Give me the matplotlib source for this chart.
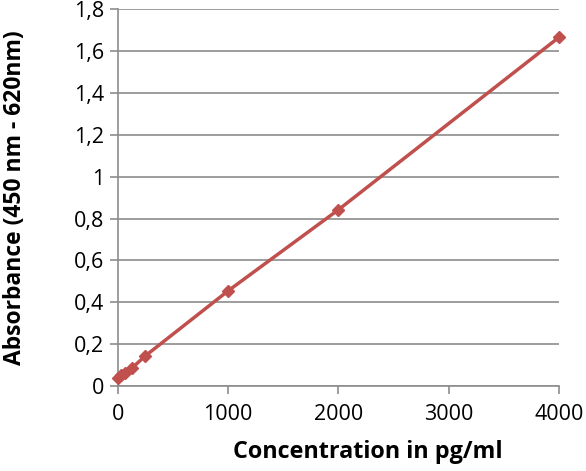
import matplotlib
matplotlib.use("Agg")
import matplotlib.pyplot as plt
from matplotlib.ticker import FuncFormatter

plt.rcParams["font.family"] = ["Open Sans", "DejaVu Sans"]

# Standard curve data
conc = [0, 31.25, 62.5, 125, 250, 1000, 2000, 4000]
absorb = [0.040, 0.052, 0.065, 0.085, 0.145, 0.455, 0.842, 1.665]

x_ticks = [0, 1000, 2000, 3000, 4000]
y_ticks = [0, 0.2, 0.4, 0.6, 0.8, 1.0, 1.2, 1.4, 1.6, 1.8]

RED = "#c0504d"
GRID = "#8c8c8c"

fig = plt.figure(figsize=(5.86, 4.71), dpi=100)
ax = fig.add_axes([0.201, 0.180, 0.753, 0.801])

ax.plot(conc, absorb, color=RED, lw=2.5, marker="D", markersize=6.5,
        markeredgecolor=RED, zorder=3, clip_on=False)

ax.set_xlim(0, 4000)
ax.set_ylim(0, 1.8)
ax.set_xticks(x_ticks)
ax.set_yticks(y_ticks)

def comma(v, pos):
    s = f"{v:.1f}".rstrip("0").rstrip(".")
    return s.replace(".", ",")

ax.yaxis.set_major_formatter(FuncFormatter(comma))
ax.yaxis.grid(True, color=GRID, lw=1.2)
ax.set_axisbelow(True)

for side in ("top", "right"):
    ax.spines[side].set_visible(False)
for side in ("left", "bottom"):
    ax.spines[side].set_color(GRID)
    ax.spines[side].set_linewidth(1.2)

ax.tick_params(axis="both", colors=GRID, labelcolor="black",
               labelsize=15.5, width=1.2, length=6, direction="out")
ax.tick_params(axis="x", pad=7)
ax.tick_params(axis="y", pad=4)

ax.set_xlabel("Concentration in pg/ml", fontsize=16.8, fontweight="bold")
ax.set_ylabel("Absorbance (450 nm - 620nm)", fontsize=16.5, fontweight="bold")
ax.xaxis.set_label_coords(0.567, -0.143)
ax.yaxis.set_label_coords(-0.206, 0.5)

fig.savefig("out.png", dpi=100)
